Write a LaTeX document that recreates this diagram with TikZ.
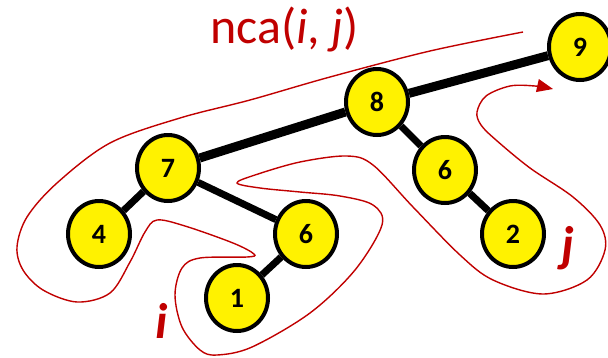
\documentclass[tikz,border=0pt]{standalone}
\usepackage{fontspec}
\setmainfont{Carlito}
\usetikzlibrary{arrows.meta, shapes.geometric}
\definecolor{tourred}{HTML}{C00000}
\tikzset{
  vert/.style={ellipse, draw=black, line width=4pt, fill=yellow,
    minimum width=62pt, minimum height=66pt, inner sep=0pt,
    font=\fontsize{28}{32}\selectfont\bfseries},
  heavy edge/.style={line width=9pt},
  light edge/.style={line width=7pt},
  tour/.style={color=tourred, line width=1.4pt},
  tour label/.style={text=tourred, inner sep=0pt},
}

\begin{document}
\begin{tikzpicture}[x=1pt, y=-1pt]
        \useasboundingbox (0,0) rectangle (608,357);
        \node[vert] (v9) at (580,47) {9};
        \node[vert] (v8) at (377,102) {8};
        \node[vert] (v7) at (168,168) {7};
        \node[vert] (v6r) at (445,170) {6};
        \node[vert] (v4) at (99,234) {4};
        \node[vert] (v6l) at (306,234) {6};
        \node[vert] (v2) at (513,234) {2};
        \node[vert] (v1) at (237,298) {1};
        \draw[heavy edge] (v9) -- (v8);
        \draw[heavy edge] (v8) -- (v7);
        \draw[light edge] (v7) -- (v6l);
        \draw[light edge] (v7) -- (v4);
        \draw[light edge] (v8) -- (v6r);
        \draw[light edge] (v6r) -- (v2);
        \draw[light edge] (v6l) -- (v1);
        \draw[tour, -{Triangle[length=16pt, width=13pt]}] plot[smooth, tension=0.55] coordinates {
          (523,32) (430,51) (330,77) (250,100) (180,118) (110,143) (57,183)
          (27,217) (17,247) (23,270) (43,290) (77,302) (110,293) (130,262)
          (145,232) (157,220) (185,226) (233,243) (254,254) (247,257) (200,258)
          (182,268) (175,295) (182,327) (200,350) (217,355) (252,347) (310,313)
          (355,270) (382,225) (373,205) (340,196) (300,192) (260,188) (237,183)
          (255,175) (300,162) (347,156) (373,165) (413,207) (460,255) (493,280)
          (543,294) (587,280) (605,250) (600,225) (573,197) (530,168) (496,140)
          (481,125) (477,112) (486,96) (510,86) (535,86) (553,89)};
        \node[tour label, anchor=base west, font=\fontsize{50}{60}\selectfont] (nca) at (210,43) {nca(\textit{i}, \textit{j})};
        \node[tour label, anchor=base, font=\fontsize{50}{60}\selectfont\bfseries\itshape] (labi) at (162,338) {i};
        \node[tour label, anchor=base, font=\fontsize{50}{60}\selectfont\bfseries\itshape] (labj) at (568,261) {j};
\end{tikzpicture}
\end{document}
